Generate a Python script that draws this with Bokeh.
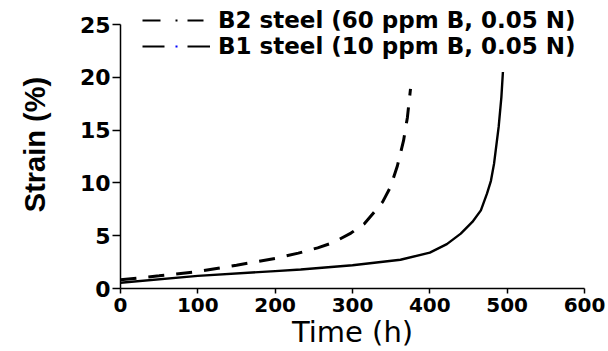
from bokeh.plotting import figure
from bokeh.models import Range1d, Legend, LegendItem, ColumnDataSource
from bokeh.embed import file_html
from bokeh.resources import INLINE

# ---- data ----
b2_time = [0, 50, 100, 150, 200, 230, 255, 275, 298, 315, 330, 339, 349, 358, 366, 371, 375]
b2_strain = [0.82, 1.2, 1.6, 2.2, 2.85, 3.35, 3.85, 4.35, 5.25, 6.1, 7.4, 8.2, 9.6, 11.6, 14.0, 16.2, 18.9]

b1_time = [0, 100, 200, 233, 300, 362, 400, 422, 440, 455, 466, 474, 479, 483, 489, 492.5, 494.5]
b1_strain = [0.54, 1.2, 1.65, 1.8, 2.2, 2.72, 3.4, 4.2, 5.2, 6.3, 7.4, 9.0, 10.2, 11.8, 15.3, 18.1, 20.5]

x_ticks = [0, 100, 200, 300, 400, 500, 600]
y_ticks = [0, 5, 10, 15, 20, 25]

b2_label = "B2 steel (60 ppm B, 0.05 N)"
b1_label = "B1 steel (10 ppm B, 0.05 N)"

# the frame reaches the top of the canvas so the legend above the "25" tick is not clipped;
# the y axis itself is bounded to 0..25
HEIGHT, TOP_PAD, BOTTOM = 351, 24, 63
frame_h = HEIGHT - BOTTOM
y_top = 25 * frame_h / (frame_h - TOP_PAD)

p = figure(width=608, height=HEIGHT, output_backend="svg", toolbar_location=None,
           x_range=Range1d(0, 600), y_range=Range1d(0, y_top),
           min_border_left=120, min_border_right=24, min_border_top=0, min_border_bottom=BOTTOM)
p.outline_line_color = None
p.xgrid.visible = False
p.ygrid.visible = False
p.background_fill_color = "white"
p.border_fill_color = "white"

p.line(b2_time, b2_strain, line_color="black", line_width=3, line_dash="16 12")
p.line(b1_time, b1_strain, line_color="black", line_width=2.4)

# legend-only renderers (nothing drawn in the plot) to mimic the original legend glyphs
nan = float("nan")
blank = ColumnDataSource(data=dict(x=[nan], y=[nan]))
lg_b2 = p.line("x", "y", source=blank, line_color="black", line_width=2, line_dash="18 15 2 10 16 100")
lg_b1 = p.line("x", "y", source=blank, line_color="black", line_width=2, line_dash="22 23 23 100")
lg_b1_dot = p.line("x", "y", source=blank, line_color="blue", line_width=2, line_dash="0 33 2 100")

legend = Legend(items=[LegendItem(label=b2_label, renderers=[lg_b2]),
                       LegendItem(label=b1_label, renderers=[lg_b1, lg_b1_dot])],
                location=(22, 229))
legend.padding = 0
legend.margin = 0
legend.spacing = 0
legend.border_line_color = None
legend.background_fill_alpha = 0
legend.glyph_width = 68
legend.glyph_height = 26
legend.label_height = 26
legend.label_standoff = 8
legend.label_text_font = "DejaVu Sans"
legend.label_text_font_style = "bold"
legend.label_text_font_size = "23px"
legend.label_text_color = "black"
p.add_layout(legend, "center")

# axes
xa = p.xaxis[0]
xa.ticker = x_ticks
xa.ticker.num_minor_ticks = 2
xa.axis_label = "Time (h)"
xa.axis_label_text_font = "DejaVu Sans"
xa.axis_label_text_font_style = "normal"
xa.axis_label_text_font_size = "29px"
xa.axis_label_text_color = "black"
xa.axis_label_standoff = 0
xa.major_label_text_font = "DejaVu Sans"
xa.major_label_text_font_style = "bold"
xa.major_label_text_font_size = "20px"
xa.major_label_text_color = "black"
xa.major_label_standoff = 4
xa.major_tick_in = 0
xa.major_tick_out = 5
xa.minor_tick_in = 0
xa.minor_tick_out = 3
xa.axis_line_width = 1.5
xa.major_tick_line_width = 1.5
xa.minor_tick_line_width = 1.5

ya = p.yaxis[0]
ya.ticker = y_ticks
ya.ticker.num_minor_ticks = 2
ya.bounds = (0, 25)
ya.axis_label = "Strain (%)"
ya.axis_label_text_font = "Liberation Sans"
ya.axis_label_text_font_style = "bold"
ya.axis_label_text_font_size = "29px"
ya.axis_label_text_color = "black"
ya.axis_label_standoff = 26
ya.major_label_text_font = "DejaVu Sans"
ya.major_label_text_font_style = "bold"
ya.major_label_text_font_size = "22px"
ya.major_label_text_color = "black"
ya.major_label_standoff = 2
ya.major_tick_in = 0
ya.major_tick_out = 8
ya.minor_tick_in = 0
ya.minor_tick_out = 5
ya.axis_line_width = 1.5
ya.major_tick_line_width = 1.5
ya.minor_tick_line_width = 1.5

open("out.html", "w").write(file_html(p, INLINE))
